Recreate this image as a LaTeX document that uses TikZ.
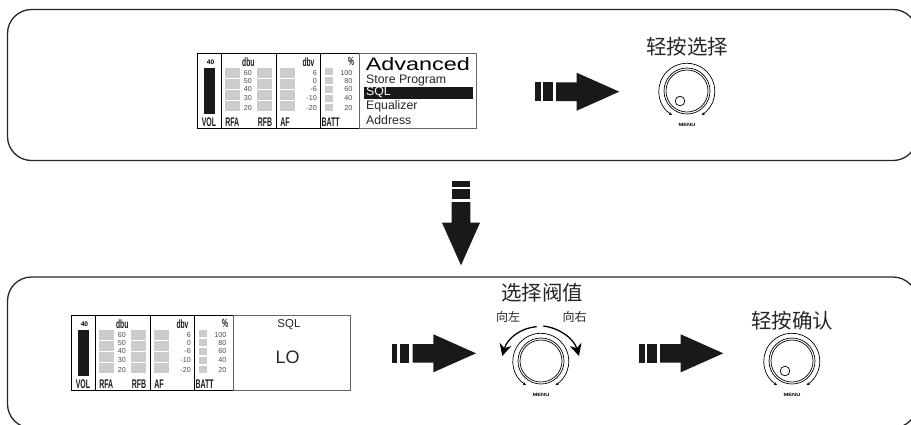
\documentclass[tikz,border=0pt]{standalone}
\usepackage{fontspec}
\setmainfont{Liberation Sans}
\newfontfamily\cjk{Noto Sans CJK SC}
\usetikzlibrary{arrows.meta}
\tikzset{
panel/.style={draw=black!85,line width=1.3pt,rounded corners=24pt},
lcdline/.style={draw=black,line width=1pt},
lcdgrey/.style={draw=black!60,line width=1pt},
cell/.style={fill=black!20,draw=none},
narrow/.style={inner sep=0pt,xscale=.56,font=\bfseries\fontsize{#1}{#1}\selectfont,text=black!90},
tick/.style={inner sep=0pt,anchor=east,font=\fontsize{7.2}{7}\selectfont,text=black!70},
lcdtext/.style={anchor=west,inner sep=0pt,font=\fontsize{12.3}{12}\selectfont,text=black!85},
menutext/.style={inner sep=0pt,xscale=1.25,font=\bfseries\fontsize{4.6}{5}\selectfont},
title/.style={inner sep=0pt,font=\cjk\fontsize{20.5}{20}\selectfont,text=black!85},
side/.style={inner sep=0pt,font=\cjk\fontsize{12}{12}\selectfont,text=black!85},
pics/meters/.style={code={
\draw[lcdline] (359,128.5) -- (197.5,128.5) -- (197.5,53.5) -- (359,53.5);
\draw[lcdline] (221.5,53.5) -- (221.5,128.5) (276.5,53.5) -- (276.5,128.5) (320.5,53.5) -- (320.5,128.5);
\fill[black!90] (204,67.5) rectangle (215,113.5);
\foreach \y in {68,79,90,101}{
\fill[cell] (225,\y) rectangle ++(15,10);
\fill[cell] (256.5,\y) rectangle ++(15,10);
\fill[cell] (280,\y) rectangle ++(15,10);
}
\foreach \y in {68,77,86,95,104}{
\fill[cell] (324.5,\y) rectangle ++(8,6.5);
}
\node[inner sep=0pt,font=\bfseries\fontsize{6.6}{7}\selectfont] (volval) at (210.5,62) {40};
\node[narrow=12.5] (vol) at (209,121.7) {VOL};
\node[narrow=12.5] (rfa) at (232.3,121.7) {RFA};
\node[narrow=12.5] (rfb) at (265,121.7) {RFB};
\node[narrow=12.5] (af) at (285,121.7) {AF};
\node[narrow=12.5] (batt) at (330.7,121.7) {BATT};
\node[narrow=12] (dbu) at (248.3,62.7) {dbu};
\node[narrow=12] (dbv) at (308.5,62.7) {dbv};
\node[narrow=12] (pct) at (351,61.5) {\%};
\node[tick] (u60) at (252,72.7) {60};
\node[tick] (u50) at (252,80.7) {50};
\node[tick] (u40) at (252,89.3) {40};
\node[tick] (u30) at (252,97.7) {30};
\node[tick] (u20) at (252,107.7) {20};
\node[tick] (v6) at (317,72.7) {6};
\node[tick] (v0) at (317,80.7) {0};
\node[tick] (vm6) at (317,89.3) {-6};
\node[tick] (vm10) at (317,98.3) {-10};
\node[tick] (vm20) at (317,107.7) {-20};
\node[tick] (p100) at (352.5,73.3) {100};
\node[tick] (p80) at (352.5,80.7) {80};
\node[tick] (p60) at (352.5,89.3) {60};
\node[tick] (p40) at (352.5,98.3) {40};
\node[tick] (p20) at (352.5,107.7) {20};
}},
pics/fatarrow/.style={code={
\fill[black!90] (0,-9.3) rectangle (5.7,9.3);
\fill[black!90] (8.3,-9.3) rectangle (17.7,9.3);
\fill[black!90] (21,-9.3) -- (41.7,-9.3) -- (41.7,-19) -- (84.3,0) -- (41.7,19) -- (41.7,9.3) -- (21,9.3) -- cycle;
}},
pics/knob/.style={code={
\draw[line width=.7pt,{Stealth[length=3pt,width=3pt]}-{Stealth[length=3pt,width=3pt]}] (-15,24) arc[start angle=238,end angle=-58,radius=28pt];
\draw[line width=.7pt] (0,0) circle[radius=23pt];
\draw[line width=.7pt] (0,0) circle[radius=21pt];
\node[menutext] (menu) at (0,34) {MENU};
}}
}
\begin{document}
\begin{tikzpicture}[x=1pt,y=-1pt]
\useasboundingbox (0,0) rectangle (911,424);
\clip (0,0) rectangle (911,424);

% upper panel
\draw[panel] (7.5,9.5) -- (917,9.5) -- (917,160.5) -- (7.5,160.5) -- cycle;
\pic at (0,0) {meters};
\draw[lcdgrey] (359.5,53.5) -- (476.5,53.5) -- (476.5,128.5) -- (359.5,128.5) -- cycle;
\draw (365.5,64) node[anchor=west,inner sep=0pt,xscale=1.3,font=\fontsize{18}{18}\selectfont] (adv) {Advanced};
\draw (366,80) node[lcdtext] (store) {Store Program};
\fill[black!90] (364,87.3) rectangle (472.7,98.7);
\draw (366,92.7) node[lcdtext,text=white] (sql) {SQL};
\draw (366,106.7) node[lcdtext] (eq) {Equalizer};
\draw (366,120) node[lcdtext] (addr) {Address};
\pic at (535,91.7) {fatarrow};
\node[title] (press1) at (687,47) {轻按选择};
\pic (k1) at (687,91) {knob};
\draw[line width=.7pt] (680,101) circle[radius=4.8pt];

% down arrow
\pic[rotate=-90] at (461,181) {fatarrow};

% lower panel
\draw[panel] (7.5,277) -- (917,277) -- (917,428) -- (7.5,428) -- cycle;
\pic at (-126,262) {meters};
\draw[lcdgrey] (233.5,315.5) -- (350.5,315.5) -- (350.5,390.5) -- (233.5,390.5) -- cycle;
\node[inner sep=0pt,font=\fontsize{11.5}{12}\selectfont,text=black!85] (sql2) at (289,325) {SQL};
\node[inner sep=0pt,font=\fontsize{18}{18}\selectfont,text=black!85] (lo) at (287.7,357.3) {LO};
\pic at (391.7,353.3) {fatarrow};
\node[title] (pick) at (542,293) {选择阀值};
\node[side] (left) at (508,316.7) {向左};
\node[side] (right) at (574.7,316.7) {向右};
\pic (k2) at (541,361) {knob};
\coordinate (lstart) at (536.7,326.7);
\coordinate (ltip) at (502.3,356);
\coordinate (rstart) at (543.3,326);
\coordinate (rtip) at (579,356);
\draw[line width=1.3pt,-{Stealth[length=12pt,width=12pt]}] (lstart) .. controls (520,328) and (507,339) .. (ltip);
\draw[line width=1.3pt,-{Stealth[length=12pt,width=12pt]}] (rstart) .. controls (560,328) and (574,339) .. (rtip);
\pic at (639,353.3) {fatarrow};
\node[title] (press2) at (792,320.7) {轻按确认};
\pic (k3) at (792,361) {knob};
\draw[line width=.7pt] (785,371) circle[radius=4.8pt];
\end{tikzpicture}
\end{document}
